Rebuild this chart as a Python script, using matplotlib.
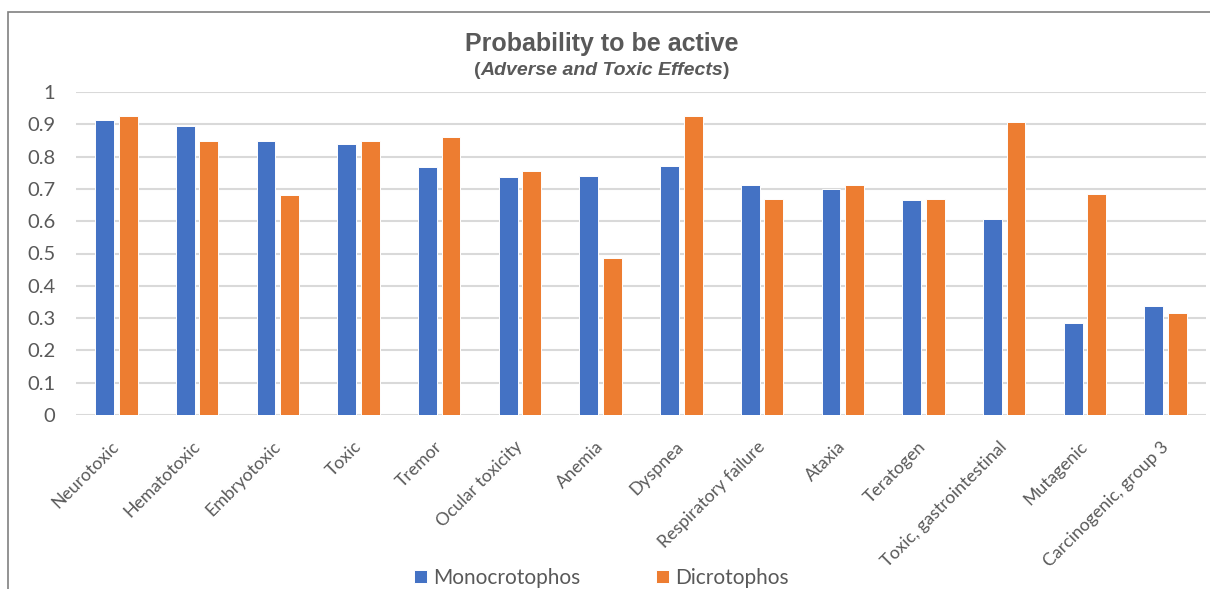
import matplotlib
matplotlib.use("Agg")
import matplotlib.pyplot as plt
from matplotlib.patches import Rectangle
import numpy as np

# datos
categorias = ["Neurotoxic", "Hematotoxic", "Embryotoxic", "Toxic", "Tremor",
              "Ocular toxicity", "Anemia", "Dyspnea", "Respiratory failure",
              "Ataxia", "Teratogen", "Toxic, gastrointestinal", "Mutagenic",
              "Carcinogenic, group 3"]
monocrotophos = [0.914, 0.896, 0.847, 0.840, 0.767, 0.737, 0.741, 0.770,
                 0.711, 0.700, 0.667, 0.607, 0.285, 0.337]
dicrotophos = [0.925, 0.847, 0.681, 0.847, 0.860, 0.754, 0.485, 0.925,
               0.670, 0.711, 0.670, 0.906, 0.685, 0.315]
yticks = [0, 0.1, 0.2, 0.3, 0.4, 0.5, 0.6, 0.7, 0.8, 0.9, 1]
ytick_labels = ["0", "0.1", "0.2", "0.3", "0.4", "0.5", "0.6", "0.7", "0.8", "0.9", "1"]

azul = "#4472C4"
naranja = "#ED7D31"
gris = "#595959"

fig = plt.figure(figsize=(12.1, 5.89), dpi=100)
ax = fig.add_axes([76 / 1210, 1 - 415 / 589, 1130 / 1210, 323 / 589])

x = np.arange(len(categorias))
ancho = 0.235
desp = 0.146
ax.bar(x - desp, monocrotophos, ancho, color=azul, edgecolor="white",
       linewidth=0.7, label="Monocrotophos", zorder=3)
ax.bar(x + desp, dicrotophos, ancho, color=naranja, edgecolor="white",
       linewidth=0.7, label="Dicrotophos", zorder=3)

ax.set_xlim(-0.5, len(categorias) - 0.5)
ax.set_ylim(0, 1)
ax.set_yticks(yticks)
ax.set_yticklabels(ytick_labels, fontsize=14.5, color=gris, family="Lato")
ax.yaxis.grid(True, color="#D9D9D9", linewidth=1.5, zorder=0)
ax.set_axisbelow(True)
for s in ax.spines.values():
    s.set_visible(False)
ax.tick_params(axis="both", length=0)
ax.tick_params(axis="y", pad=15)

ax.set_xticks(x)
ax.set_xticklabels(categorias, rotation=45, ha="right", va="center",
                   rotation_mode="anchor", fontsize=12.7, color=gris, family="Lato")
ax.tick_params(axis="x", pad=21)

# titulo y subtitulo
fig.text(0.4975, 0.925, "Probability to be active", ha="center", va="center",
         fontsize=18, fontweight="bold", color=gris, family="Liberation Sans")
medio = fig.text(0.4975, 0.881, "Adverse and Toxic Effects", ha="center", va="center",
                 fontsize=14, fontweight="bold", fontstyle="italic", color=gris,
                 family="Liberation Sans")
ax.annotate("(", xy=(0, 0), xycoords=medio, ha="right", va="bottom",
            fontsize=14, fontweight="bold", color=gris, family="Liberation Sans",
            annotation_clip=False)
ax.annotate(")", xy=(1, 0), xycoords=medio, ha="left", va="bottom",
            fontsize=14, fontweight="bold", color=gris, family="Liberation Sans",
            annotation_clip=False)

# leyenda
fig.legend(loc="center", bbox_to_anchor=(0.497, 0.0187), ncol=2, frameon=False,
           prop={"family": "Lato", "size": 15}, labelcolor=gris,
           handlelength=0.65, handleheight=0.6, handletextpad=0.3,
           columnspacing=3.6)

# borde del area del grafico
fig.patches.append(Rectangle((7.5 / 1210, -0.1), 1.2, 1.1 - 12 / 589,
                             transform=fig.transFigure, fill=False,
                             edgecolor="#808080", linewidth=1.2))

fig.savefig("out.png", dpi=100)
